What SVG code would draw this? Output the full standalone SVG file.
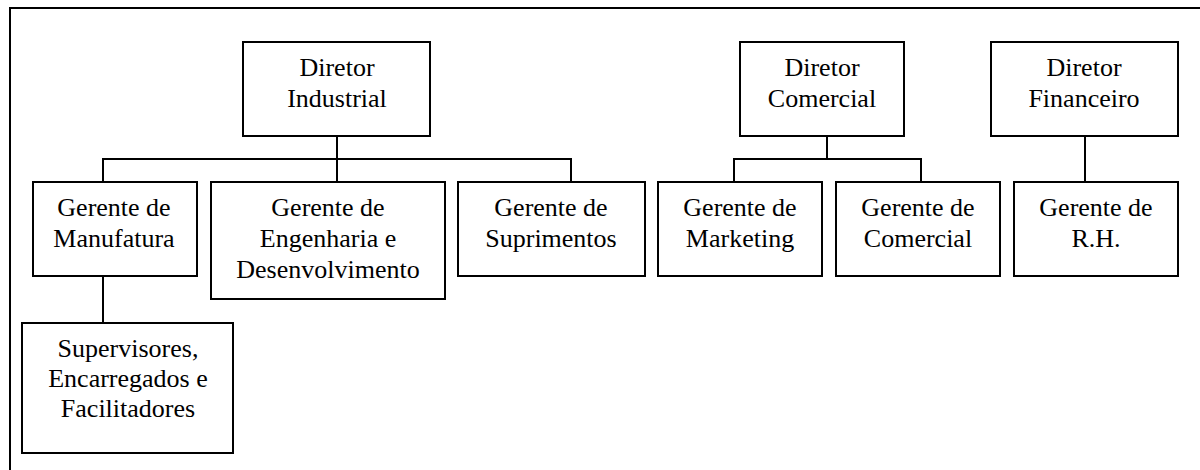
<svg xmlns="http://www.w3.org/2000/svg" width="1200" height="470" viewBox="0 0 1200 470">
<style>
.box{fill:#fff;stroke:#000;stroke-width:2}
.ln{fill:none;stroke:#000;stroke-width:2}
text{font-family:'Liberation Serif','Times New Roman',Times,'DejaVu Serif',serif;font-size:26px;fill:#000;text-anchor:middle}
</style>
<rect width="1200" height="470" fill="#fff"/>
<path class="ln" d="M10,470 V8 H1200"/>
<g id="connectors">
<path class="ln" d="M337,136 V182 M103,182 V159 H571 V182 M103,276 V323"/>
<path class="ln" d="M827,136 V159 M734,182 V159 H921 V182"/>
<path class="ln" d="M1085,136 V182"/>
</g>
<g font-family="Liberation Serif, Times New Roman, DejaVu Serif, serif">
<g id="diretor-industrial"><rect class="box" x="243" y="42" width="187" height="94"/><text x="337" y="76">Diretor</text><text x="337" y="107">Industrial</text></g>
<g id="diretor-comercial"><rect class="box" x="740" y="42" width="164" height="94"/><text x="822" y="76">Diretor</text><text x="822" y="107">Comercial</text></g>
<g id="diretor-financeiro"><rect class="box" x="991" y="42" width="187" height="94"/><text x="1084" y="76">Diretor</text><text x="1084" y="107">Financeiro</text></g>
<g id="gerente-manufatura"><rect class="box" x="33" y="182" width="164" height="94"/><text x="114" y="216">Gerente de</text><text x="114" y="247">Manufatura</text></g>
<g id="gerente-engenharia"><rect class="box" x="211" y="182" width="234" height="117"/><text x="328" y="216">Gerente de</text><text x="328" y="247">Engenharia e</text><text x="328" y="278">Desenvolvimento</text></g>
<g id="gerente-suprimentos"><rect class="box" x="458" y="182" width="187" height="94"/><text x="551" y="216">Gerente de</text><text x="551" y="247">Suprimentos</text></g>
<g id="gerente-marketing"><rect class="box" x="658" y="182" width="164" height="94"/><text x="740" y="216">Gerente de</text><text x="740" y="247">Marketing</text></g>
<g id="gerente-comercial"><rect class="box" x="836" y="182" width="164" height="94"/><text x="918" y="216">Gerente de</text><text x="918" y="247">Comercial</text></g>
<g id="gerente-rh"><rect class="box" x="1014" y="182" width="164" height="94"/><text x="1096" y="216">Gerente de</text><text x="1096" y="247">R.H.</text></g>
<g id="supervisores"><rect class="box" x="22" y="323" width="211" height="130"/><text x="128" y="357">Supervisores,</text><text x="128" y="387">Encarregados e</text><text x="128" y="417">Facilitadores</text></g>
</g>
</svg>
